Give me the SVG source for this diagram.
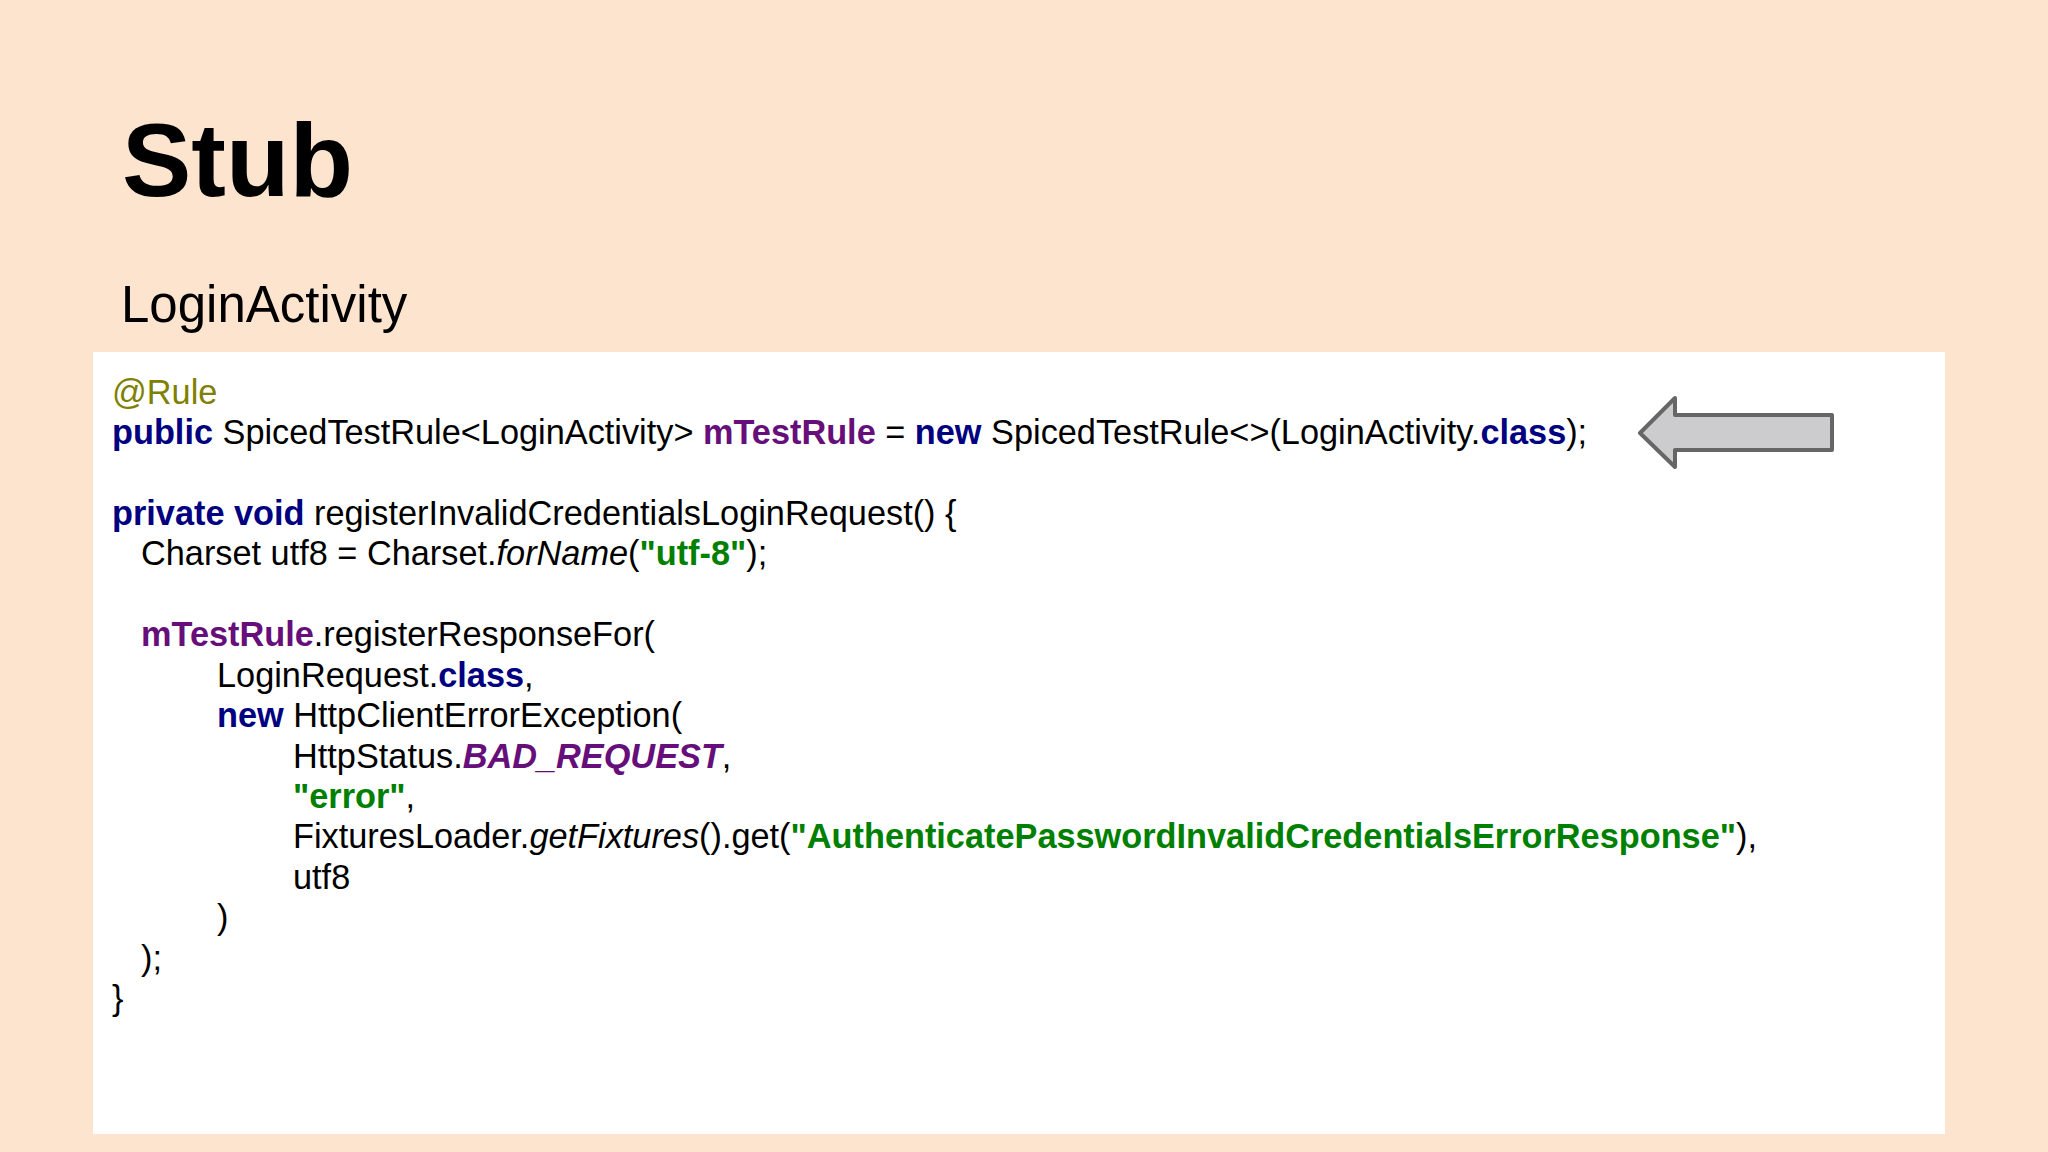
<svg xmlns="http://www.w3.org/2000/svg" width="2048" height="1152" viewBox="0 0 2048 1152">
<style>
.c{font-family:"Liberation Sans",Arial,sans-serif;font-size:34.3px;fill:#000}
.k{fill:#000080;font-weight:bold}
.p{fill:#660E7A;font-weight:bold}
.s{fill:#008000;font-weight:bold}
.i{font-style:italic}
</style>
<rect width="2048" height="1152" fill="#FDE4CF"/>
<text x="122" y="196" font-family="Liberation Sans,Arial,sans-serif" font-weight="bold" font-size="104">Stub</text>
<text x="121" y="322" font-family="Liberation Sans,Arial,sans-serif" font-size="51">LoginActivity</text>
<rect x="93" y="352" width="1852" height="782" fill="#FFFFFF"/>
<g id="arrow"><path d="M1640 433 L1675 398 L1675 415 L1832 415 L1832 450 L1675 450 L1675 467 Z" fill="#CCCCCE" stroke="#666" stroke-width="4" stroke-linejoin="round"/></g>
<g id="code" class="c">
<text x="112" y="404" style="fill:#808000">@Rule</text>
<text x="112" y="444"><tspan class="k">public</tspan> SpicedTestRule&lt;LoginActivity&gt; <tspan class="p">mTestRule</tspan> = <tspan class="k">new</tspan> SpicedTestRule&lt;&gt;(LoginActivity.<tspan class="k">class</tspan>);</text>
<text x="112" y="525"><tspan class="k">private void</tspan> registerInvalidCredentialsLoginRequest() {</text>
<text x="141" y="565">Charset utf8 = Charset.<tspan class="i">forName</tspan>(<tspan class="s">"utf-8"</tspan>);</text>
<text x="141" y="646"><tspan class="p">mTestRule</tspan>.registerResponseFor(</text>
<text x="217" y="687">LoginRequest.<tspan class="k">class</tspan>,</text>
<text x="217" y="727"><tspan class="k">new</tspan> HttpClientErrorException(</text>
<text x="293" y="768">HttpStatus.<tspan class="p i">BAD_REQUEST</tspan>,</text>
<text x="293" y="808"><tspan class="s">"error"</tspan>,</text>
<text x="293" y="848">FixturesLoader.<tspan class="i">getFixtures</tspan>().get(<tspan class="s">"AuthenticatePasswordInvalidCredentialsErrorResponse"</tspan>),</text>
<text x="293" y="889">utf8</text>
<text x="217" y="929">)</text>
<text x="141" y="970">);</text>
<text x="112" y="1010">}</text>
</g>
</svg>
